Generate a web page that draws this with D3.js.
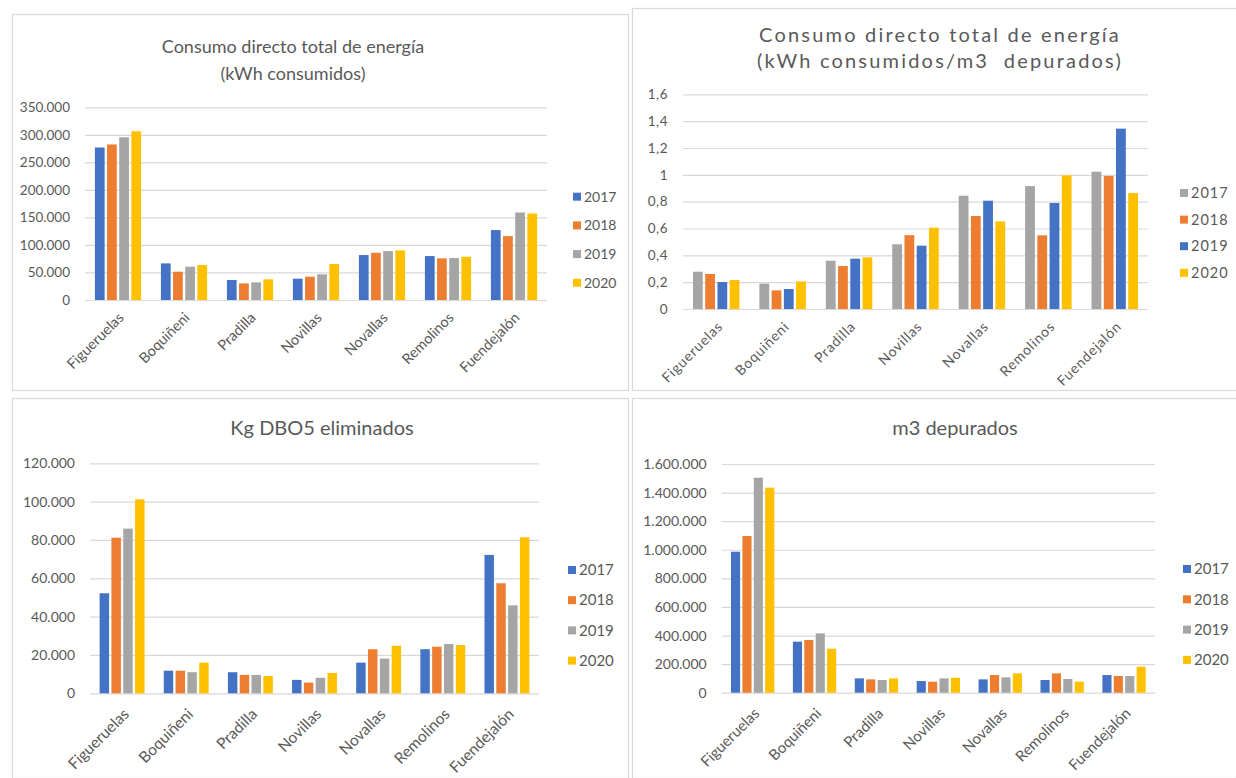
<!DOCTYPE html>
<html><head><meta charset="utf-8">
<script src="https://cdn.jsdelivr.net/npm/d3@7"></script>
<style>
html,body{margin:0;padding:0;background:#fff;}
svg{display:block;font-family:Lato, "Open Sans", sans-serif;}
</style></head>
<body>
<svg id="c" width="1236" height="778"></svg>
<script>
const categories = ["Figueruelas","Boquiñeni","Pradilla","Novillas","Novallas","Remolinos","Fuendejalón"];
const years = ["2017","2018","2019","2020"];

// Chart 1: Consumo directo total de energía (kWh consumidos)
const kwh2017 = [277000, 66500, 36300, 38700, 81600, 79800, 127000];
const kwh2018 = [282500, 51400, 30200, 42300, 85800, 75600, 116000];
const kwh2019 = [295600, 60500, 32000, 46600, 88900, 76200, 159000];
const kwh2020 = [306500, 63500, 37500, 65300, 90100, 78500, 157200];
const kwhTicks = [0, 50000, 100000, 150000, 200000, 250000, 300000, 350000];

// Chart 2: kWh consumidos / m3 depurados
const ratio2017 = [0.278, 0.189, 0.360, 0.482, 0.844, 0.916, 1.023];
const ratio2018 = [0.261, 0.139, 0.320, 0.550, 0.693, 0.549, 0.991];
const ratio2019 = [0.201, 0.149, 0.375, 0.472, 0.807, 0.790, 1.344];
const ratio2020 = [0.216, 0.206, 0.385, 0.606, 0.653, 0.996, 0.864];
const ratioTicks = [0, 0.2, 0.4, 0.6, 0.8, 1, 1.2, 1.4, 1.6];

// Chart 3: Kg DBO5 eliminados
const dbo2017 = [52200, 11800, 11000, 7000, 16000, 23000, 72200];
const dbo2018 = [81200, 11800, 9600, 5600, 23000, 24300, 57400];
const dbo2019 = [85900, 11000, 9600, 8100, 18100, 25700, 45900];
const dbo2020 = [101200, 16000, 9000, 10600, 24800, 25200, 81400];
const dboTicks = [0, 20000, 40000, 60000, 80000, 100000, 120000];

// Chart 4: m3 depurados
const m3_2017 = [986600, 356900, 100300, 81600, 93300, 88600, 123600];
const m3_2018 = [1096200, 368500, 93300, 77000, 123600, 135300, 116600];
const m3_2019 = [1504400, 415200, 88600, 100300, 107300, 95600, 116600];
const m3_2020 = [1434400, 307900, 100300, 105000, 135300, 77000, 181900];
const m3Ticks = [0, 200000, 400000, 600000, 800000, 1000000, 1200000, 1400000, 1600000];

const BLUE = "#4472C4", ORANGE = "#ED7D31", GRAY = "#A5A5A5", YELLOW = "#FFC000";
const TEXT = "#595959", GRID = "#D9D9D9";

const loc = d3.formatLocale({decimal: ",", thousands: ".", grouping: [3], currency: ["", " €"]});
const fmtThousands = loc.format(",");
const fmtDecimal = loc.format(".1~f");

const svg = d3.select("#c");

const frames = [
  {x: 12, y: 14, w: 616, h: 376},
  {x: 632, y: 8, w: 604, h: 382},
  {x: 12, y: 398, w: 616, h: 380},
  {x: 632, y: 398, w: 604, h: 380}
];
frames.forEach(f => {
  svg.append("rect").attr("x", f.x + 0.5).attr("y", f.y + 0.5).attr("width", f.w).attr("height", f.h)
    .attr("fill", "#fff").attr("stroke", GRID).attr("stroke-width", 1.2);
});

function drawChart(cfg) {
  const g = svg.append("g");
  const y = d3.scaleLinear().domain([0, cfg.max]).range([cfg.bottom, cfg.top]);
  const x0 = d3.scaleBand().domain(categories).range([cfg.left, cfg.right]).paddingInner(0.3).paddingOuter(0.15);
  const x1 = d3.scaleBand().domain(years).range([0, x0.bandwidth()]).paddingInner(0.2);

  const yAxis = d3.axisLeft(y).tickValues(cfg.ticks).tickFormat(cfg.fmt)
    .tickSize(-(cfg.right - cfg.left)).tickPadding(15);
  const ya = g.append("g").attr("transform", `translate(${cfg.left},0)`).call(yAxis);
  ya.select(".domain").remove();
  ya.selectAll(".tick line").attr("stroke", GRID).attr("stroke-width", 1.2);
  ya.selectAll(".tick text").attr("fill", TEXT).style("font-size", cfg.tickSize + "px")
    .style("letter-spacing", (cfg.tickSpacing || 0) + "px").style("font-family", "Lato, sans-serif");

  cfg.series.forEach((s, si) => {
    g.append("g").selectAll("rect").data(s.values).join("rect")
      .attr("x", (d, i) => x0(categories[i]) + x1(years[si]))
      .attr("width", x1.bandwidth())
      .attr("y", d => y(d))
      .attr("height", d => y(0) - y(d))
      .attr("fill", s.color);
  });

  const xAxis = d3.axisBottom(x0).tickSize(0).tickPadding(0);
  const xa = g.append("g").attr("transform", `translate(0,${cfg.bottom})`).call(xAxis);
  xa.select(".domain").remove();
  xa.selectAll(".tick text")
    .attr("fill", TEXT).style("font-size", cfg.labelSize + "px").style("font-family", "Lato, sans-serif")
    .style("letter-spacing", (cfg.labelSpacing || 0) + "px")
    .attr("text-anchor", "end").attr("dy", "0.35em").attr("y", 0)
    .attr("transform", `translate(${cfg.labelDx},${cfg.labelDy}) rotate(-45)`);

  cfg.title.forEach((t, i) => {
    g.append("text").attr("x", cfg.titleX).attr("y", cfg.titleY + i * cfg.titleGap)
      .attr("text-anchor", "middle").attr("fill", TEXT)
      .attr("xml:space", "preserve")
      .style("white-space", "pre")
      .style("font-size", cfg.titleSize + "px")
      .style("letter-spacing", (cfg.titleSpacing || 0) + "px")
      .text(t);
  });

  const lg = g.append("g");
  cfg.legend.forEach((l, i) => {
    const ly = cfg.legendY + i * cfg.legendStep;
    lg.append("rect").attr("x", cfg.legendX).attr("y", ly - 4).attr("width", 8).attr("height", 8).attr("fill", l.color);
    lg.append("text").attr("x", cfg.legendX + 11).attr("y", ly).attr("dy", "0.35em")
      .attr("fill", TEXT).style("font-size", cfg.legendSize + "px")
      .style("letter-spacing", (cfg.legendSpacing || 0) + "px").text(l.label);
  });
}

drawChart({
  left: 85, right: 547, top: 107.3, bottom: 300, max: 350000, ticks: kwhTicks, fmt: fmtThousands, tickSize: 13.5,
  series: [{values: kwh2017, color: BLUE}, {values: kwh2018, color: ORANGE}, {values: kwh2019, color: GRAY}, {values: kwh2020, color: YELLOW}],
  labelSize: 14.5, labelDx: 3, labelDy: 15,
  title: ["Consumo directo total de energía", "(kWh consumidos)"], titleX: 293, titleY: 53, titleGap: 27, titleSize: 18,
  legend: [{label: years[0], color: BLUE}, {label: years[1], color: ORANGE}, {label: years[2], color: GRAY}, {label: years[3], color: YELLOW}],
  legendX: 573, legendY: 196.7, legendStep: 28.7, legendSize: 14
});

drawChart({
  left: 683, right: 1148, top: 94.3, bottom: 309, max: 1.6, ticks: ratioTicks, fmt: fmtDecimal, tickSize: 13.5, tickSpacing: 0.5,
  series: [{values: ratio2017, color: GRAY}, {values: ratio2018, color: ORANGE}, {values: ratio2019, color: BLUE}, {values: ratio2020, color: YELLOW}],
  labelSize: 14, labelSpacing: 0.8, labelDx: 4, labelDy: 15,
  title: ["Consumo directo total de energía", "(kWh consumidos/m3  depurados)"], titleX: 940, titleY: 42, titleGap: 26, titleSize: 20, titleSpacing: 2.2,
  legend: [{label: years[0], color: GRAY}, {label: years[1], color: ORANGE}, {label: years[2], color: BLUE}, {label: years[3], color: YELLOW}],
  legendX: 1180, legendY: 193, legendStep: 26.6, legendSize: 14.5, legendSpacing: 1
});

drawChart({
  left: 90, right: 539, top: 463.3, bottom: 693.3, max: 120000, ticks: dboTicks, fmt: fmtThousands, tickSize: 14,
  series: [{values: dbo2017, color: BLUE}, {values: dbo2018, color: ORANGE}, {values: dbo2019, color: GRAY}, {values: dbo2020, color: YELLOW}],
  labelSize: 15.5, labelDx: 4, labelDy: 18,
  title: ["Kg DBO5 eliminados"], titleX: 322, titleY: 435, titleGap: 0, titleSize: 20,
  legend: [{label: years[0], color: BLUE}, {label: years[1], color: ORANGE}, {label: years[2], color: GRAY}, {label: years[3], color: YELLOW}],
  legendX: 568, legendY: 570, legendStep: 30.2, legendSize: 15
});

drawChart({
  left: 721.7, right: 1155, top: 464, bottom: 692.7, max: 1600000, ticks: m3Ticks, fmt: fmtThousands, tickSize: 14,
  series: [{values: m3_2017, color: BLUE}, {values: m3_2018, color: ORANGE}, {values: m3_2019, color: GRAY}, {values: m3_2020, color: YELLOW}],
  labelSize: 15, labelDx: 4, labelDy: 18,
  title: ["m3 depurados"], titleX: 955, titleY: 435, titleGap: 0, titleSize: 20,
  legend: [{label: years[0], color: BLUE}, {label: years[1], color: ORANGE}, {label: years[2], color: GRAY}, {label: years[3], color: YELLOW}],
  legendX: 1183, legendY: 569, legendStep: 30.3, legendSize: 15
});
</script>
</body></html>
